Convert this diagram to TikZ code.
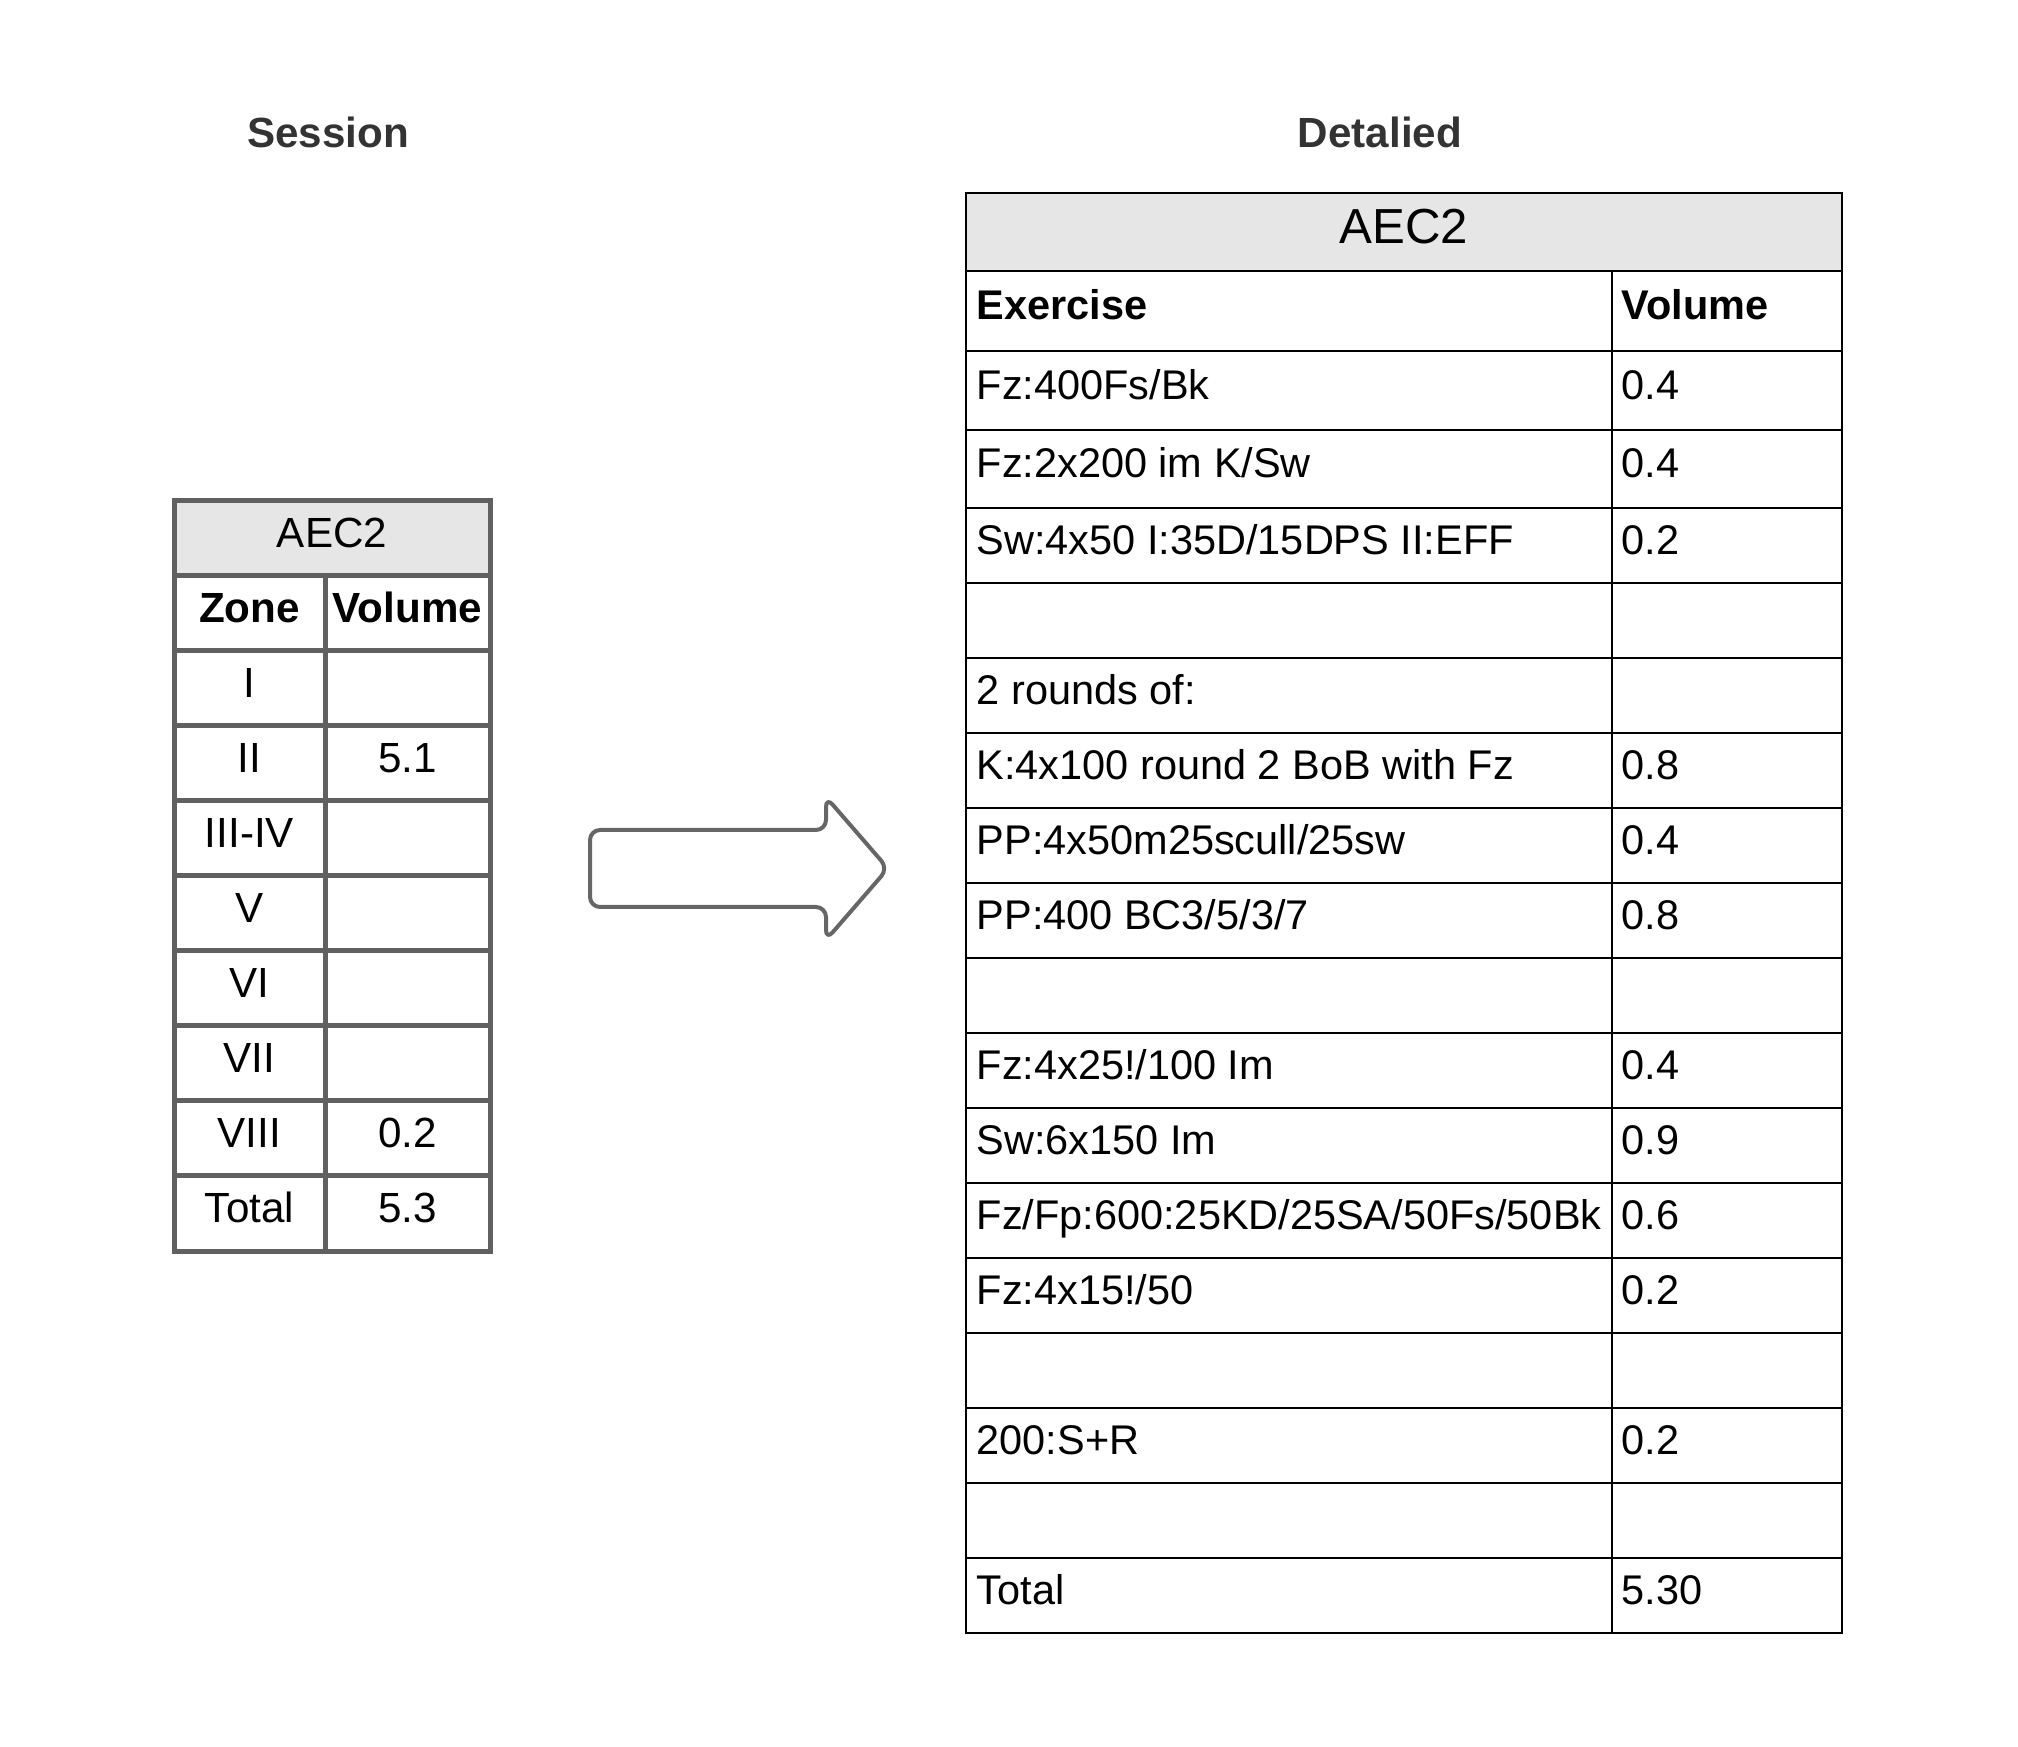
\documentclass[tikz,border=0pt]{standalone}
\usepackage{fontspec}
\setmainfont{Liberation Sans}
\definecolor{cellgray}{HTML}{E6E6E6}
\definecolor{framegray}{HTML}{606060}
\definecolor{arrowgray}{HTML}{666666}
\definecolor{titlegray}{HTML}{333333}

\begin{document}
\begin{tikzpicture} [scale = 1,
  txt/.style = {inner sep = 0pt, font = \fontsize{12}{14}\selectfont},
  cell/.style = {txt, anchor = base},
  entry/.style = {inner sep = 0pt, anchor = base west, font = \fontsize{11.8}{14}\selectfont},
  heading/.style = {titlegray, font = \fontsize{12}{14}\selectfont\bfseries}]
\useasboundingbox (0, 0) rectangle (20.18, 17.46);
% titles
\node[heading] (session) at (3.28, 16.14){Session};
\node[heading] (detailed) at (13.80, 16.14){Detalied};
% session table
\draw[framegray, fill = cellgray, line width = 0.05cm] (1.74, 11.70) rectangle (4.90, 12.45);
\draw[framegray, line width = 0.05cm] (1.74, 4.95) rectangle (4.90, 11.70);
\foreach \y in {10.95, 10.20, 9.45, 8.70, 7.95, 7.20, 6.45, 5.70}
  \draw[framegray, line width = 0.05cm] (1.74, \y) -- (4.90, \y);
\draw[framegray, line width = 0.05cm] (3.25, 4.95) -- (3.25, 11.70);
\node[cell] (sesstitle) at (3.32, 11.985){AEC2};
\node[cell, font = \fontsize{12}{14}\selectfont\bfseries] (zonehead) at (2.495, 11.235){Zone};
\node[cell, font = \fontsize{12}{14}\selectfont\bfseries] (volhead) at (4.075, 11.235){Volume};
\node[cell] (zone1) at (2.495, 10.485){I};
\node[cell] (zone2) at (2.495, 9.735){II};
\node[cell] (vol2) at (4.075, 9.735){5.1};
\node[cell] (zone3) at (2.495, 8.985){III-IV};
\node[cell] (zone5) at (2.495, 8.235){V};
\node[cell] (zone6) at (2.495, 7.485){VI};
\node[cell] (zone7) at (2.495, 6.735){VII};
\node[cell] (zone8) at (2.495, 5.985){VIII};
\node[cell] (vol8) at (4.075, 5.985){0.2};
\node[cell] (zonetotal) at (2.495, 5.235){Total};
\node[cell] (voltotal) at (4.075, 5.235){5.3};
% arrow
\draw[arrowgray, line width = 0.04cm, rounded corners = 0.1cm, line join = round]
  (5.90, 9.16) -- (8.26, 9.16) -- (8.26, 9.49) -- (8.88, 8.775) -- (8.26, 8.06)
  -- (8.26, 8.39) -- (5.90, 8.39) -- cycle;
% detailed table
\draw[black, fill = cellgray, line width = 0.7pt] (9.66, 14.75) rectangle (18.42, 15.53);
\draw[black, line width = 0.7pt] (9.66, 1.13) rectangle (18.42, 14.75);
\foreach \y in {13.95, 13.16, 12.38, 11.63, 10.88, 10.13, 9.38, 8.63, 7.88, 7.13, 6.38, 5.63, 4.88, 4.13, 3.38, 2.63, 1.88}
  \draw[black, line width = 0.7pt] (9.66, \y) -- (18.42, \y);
\draw[black, line width = 0.7pt] (16.12, 1.13) -- (16.12, 14.75);
\node[txt, anchor = base, font = \fontsize{14}{16}\selectfont] (dettitle) at (14.04, 15.02){AEC2};
\node[entry, font = \fontsize{11.8}{14}\selectfont\bfseries] (exhead) at (9.76, 14.26){Exercise};
\node[entry, font = \fontsize{11.8}{14}\selectfont\bfseries] (dvolhead) at (16.21, 14.26){Volume};
\node[entry] (ex1) at (9.76, 13.465){Fz:400Fs/Bk};
\node[entry] (dvol1) at (16.21, 13.465){0.4};
\node[entry] (ex2) at (9.76, 12.68){Fz:2x200 im K/Sw};
\node[entry] (dvol2) at (16.21, 12.68){0.4};
\node[entry] (ex3) at (9.76, 11.915){Sw:4x50 I:35D/15DPS II:EFF};
\node[entry] (dvol3) at (16.21, 11.915){0.2};
\node[entry] (ex5) at (9.76, 10.415){2 rounds of:};
\node[entry] (ex6) at (9.76, 9.665){K:4x100 round 2 BoB with Fz};
\node[entry] (dvol6) at (16.21, 9.665){0.8};
\node[entry] (ex7) at (9.76, 8.915){PP:4x50m25scull/25sw};
\node[entry] (dvol7) at (16.21, 8.915){0.4};
\node[entry] (ex8) at (9.76, 8.165){PP:400 BC3/5/3/7};
\node[entry] (dvol8) at (16.21, 8.165){0.8};
\node[entry] (ex10) at (9.76, 6.665){Fz:4x25!/100 Im};
\node[entry] (dvol10) at (16.21, 6.665){0.4};
\node[entry] (ex11) at (9.76, 5.915){Sw:6x150 Im};
\node[entry] (dvol11) at (16.21, 5.915){0.9};
\node[entry] (ex12) at (9.76, 5.165){Fz/Fp:600:25KD/25SA/50Fs/50Bk};
\node[entry] (dvol12) at (16.21, 5.165){0.6};
\node[entry] (ex13) at (9.76, 4.415){Fz:4x15!/50};
\node[entry] (dvol13) at (16.21, 4.415){0.2};
\node[entry] (ex15) at (9.76, 2.915){200:S+R};
\node[entry] (dvol15) at (16.21, 2.915){0.2};
\node[entry] (extotal) at (9.76, 1.415){Total};
\node[entry] (dvoltotal) at (16.21, 1.415){5.30};
\end{tikzpicture}
\end{document}
